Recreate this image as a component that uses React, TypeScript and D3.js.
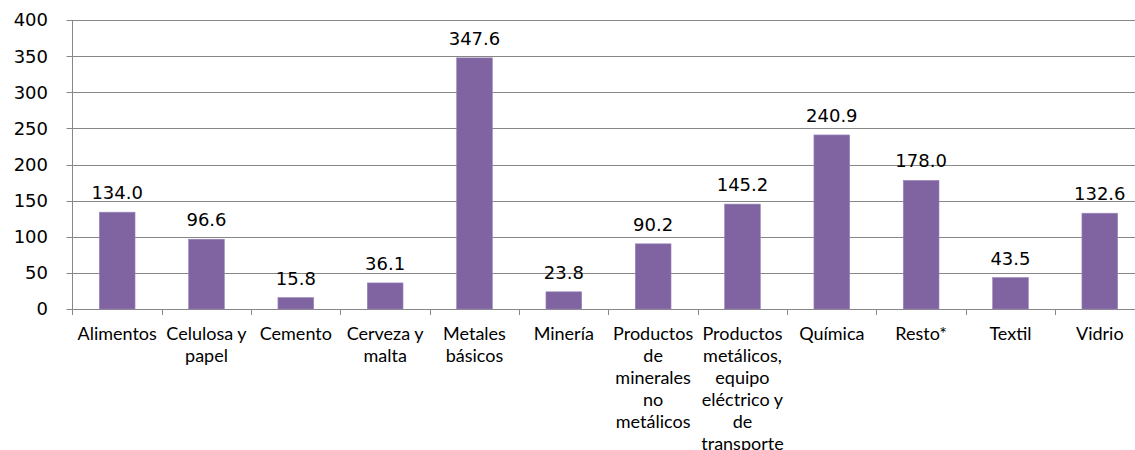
import React, { useMemo } from "react";
import * as d3 from "d3";

const categories = [
  "Alimentos",
  "Celulosa y papel",
  "Cemento",
  "Cerveza y malta",
  "Metales básicos",
  "Minería",
  "Productos de minerales no metálicos",
  "Productos metálicos, equipo eléctrico y de transporte",
  "Química",
  "Resto*",
  "Textil",
  "Vidrio",
];
const values = [134.0, 96.6, 15.8, 36.1, 347.6, 23.8, 90.2, 145.2, 240.9, 178.0, 43.5, 132.6];
const yTicks = [0, 50, 100, 150, 200, 250, 300, 350, 400];

const W = 1135;
const H = 450;
const M = { left: 72.5, top: 20, bottom: 309 };
const BAND = 89.33;
const CAT_FONT = "18px Lato";
const NUM_FONT = "DejaVu Sans";

function wrap(text: string, maxW: number): string[] {
  const canvas = document.createElement("canvas");
  const ctx = canvas.getContext("2d")!;
  ctx.font = CAT_FONT;
  const words = text.split(" ");
  const lines: string[] = [];
  let cur = "";
  for (const w of words) {
    const t = cur ? cur + " " + w : w;
    if (cur && ctx.measureText(t).width > maxW) {
      lines.push(cur);
      cur = w;
    } else cur = t;
  }
  if (cur) lines.push(cur);
  return lines;
}

export default function App() {
  const x = d3
    .scaleBand<string>()
    .domain(categories)
    .range([M.left, M.left + BAND * categories.length])
    .paddingInner(0.6)
    .paddingOuter(0.3);
  const band = d3.scaleBand<string>().domain(categories).range([M.left, M.left + BAND * categories.length]);
  const y = d3.scaleLinear().domain([0, 400]).range([M.bottom, M.top]);
  const wrapped = useMemo(() => categories.map((c) => wrap(c, 88)), []);
  const right = M.left + BAND * categories.length;

  return (
    <svg
      width={W}
      height={H}
      style={{ position: "absolute", left: 0, top: 0, background: "#fff" }}
    >
      {yTicks.map((t) => (
        <g key={t}>
          <line x1={M.left - 6} x2={right} y1={Math.round(y(t)) + 0.5} y2={Math.round(y(t)) + 0.5} stroke="#878787" strokeWidth={1} />
          <text
            x={48}
            y={y(t)}
            dy="0.36em"
            textAnchor="end"
            fontFamily={NUM_FONT}
            fontSize={18}
            fill="#000"
          >
            {t}
          </text>
        </g>
      ))}
      <line x1={M.left} x2={M.left} y1={M.top} y2={M.bottom + 6} stroke="#878787" />
      {categories.map((c) => (
        <line
          key={"tk" + c}
          x1={Math.round((band(c) as number) + BAND) + 0.5}
          x2={Math.round((band(c) as number) + BAND) + 0.5}
          y1={M.bottom}
          y2={M.bottom + 6}
          stroke="#878787"
        />
      ))}
      {categories.map((c, i) => (
        <rect
          key={"b" + c}
          x={x(c)}
          y={y(values[i])}
          width={x.bandwidth()}
          height={y(0) - y(values[i])}
          fill="#8064A2"
          stroke="#9a86b8"
          strokeWidth={0.6}
        />
      ))}
      {categories.map((c, i) => (
        <text
          key={"v" + c}
          x={(x(c) as number) + x.bandwidth() / 2}
          y={y(values[i]) - 13}
          textAnchor="middle"
          fontFamily={NUM_FONT}
          fontSize={18}
          fill="#000"
        >
          {values[i].toFixed(1)}
        </text>
      ))}
      {categories.map((c, i) => (
        <text
          key={"c" + c}
          textAnchor="middle"
          fontFamily="Lato"
          fontSize={18}
          fill="#000"
        >
          {wrapped[i].map((l, j) => (
            <tspan key={j} x={(band(c) as number) + BAND / 2} y={339.5 + j * 22}>
              {l}
            </tspan>
          ))}
        </text>
      ))}
    </svg>
  );
}
